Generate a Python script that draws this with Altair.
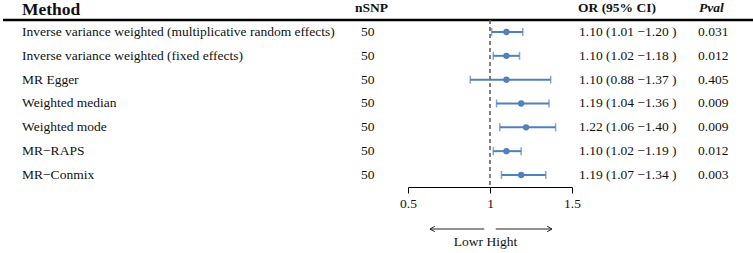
import altair as alt
import pandas as pd

methods = [
    "Inverse variance weighted (multiplicative random effects)",
    "Inverse variance weighted (fixed effects)",
    "MR Egger",
    "Weighted median",
    "Weighted mode",
    "MR\u2212RAPS",
    "MR\u2212Conmix",
]
nsnp = [50, 50, 50, 50, 50, 50, 50]
or_est = [1.10, 1.10, 1.10, 1.19, 1.22, 1.10, 1.19]
ci_lo = [1.01, 1.02, 0.88, 1.04, 1.06, 1.02, 1.07]
ci_hi = [1.20, 1.18, 1.37, 1.36, 1.40, 1.19, 1.34]
pvals = ["0.031", "0.012", "0.405", "0.009", "0.009", "0.012", "0.003"]
axis_ticks = [0.5, 1, 1.5]
headers = ["Method", "nSNP", "OR (95% CI)", "Pval"]

df = pd.DataFrame({
    "row": list(range(len(methods))),
    "method": methods,
    "nsnp": [str(n) for n in nsnp],
    "or": or_est,
    "lo": ci_lo,
    "hi": ci_hi,
    "ortxt": [f"{o:.2f} ({l:.2f} \u2212{h:.2f} )" for o, l, h in zip(or_est, ci_lo, ci_hi)],
    "pval": pvals,
})

FONT = "Liberation Serif"
BLUE = "#4F81BD"
FS = 13.5

xscale = alt.Scale(domain=[0.5, 1.5], range=[408, 572], nice=False, zero=False)
yscale = alt.Scale(domain=[-1.343, 9.274], range=[0, 253], nice=False, zero=False)
Y = alt.Y("row:Q", scale=yscale, axis=None)

base = alt.Chart(df)

def col_text(field, xpix):
    return base.mark_text(align="left", baseline="middle", font=FONT, fontSize=FS,
                          color="#111").encode(x=alt.value(xpix), y=Y, text=f"{field}:N")

t_method = col_text("method", 22)
t_nsnp = col_text("nsnp", 361)
t_or = col_text("ortxt", 579)
t_p = col_text("pval", 698)

hdr = pd.DataFrame({"h": headers})

def head(i, xpix, ypix, size, style="normal"):
    return alt.Chart(hdr).transform_filter(alt.datum.h == headers[i]).mark_text(
        align="left", baseline="middle", font=FONT, fontSize=size, fontWeight="bold",
        fontStyle=style, color="#111"
    ).encode(x=alt.value(xpix), y=alt.value(ypix), text="h:N")

h_method = head(0, 22, 10, 17.5)
h_nsnp = head(1, 355, 8, 13.5)
h_or = head(2, 578, 8, 13.5)
h_p = head(3, 699, 8, 13.5, "italic")

hline = alt.Chart(hdr).transform_filter(alt.datum.h == headers[0]).mark_rule(
    color="black", strokeWidth=2.5
).encode(x=alt.value(3), x2=alt.value(753), y=alt.value(20))

ref = pd.DataFrame({"v": [1.0]})
dash = alt.Chart(ref).mark_rule(color="#555", strokeWidth=1.5, strokeDash=[4, 3]).encode(
    x=alt.X("v:Q", scale=xscale,
            axis=alt.Axis(values=axis_ticks, format=".1~f", grid=False, offset=-66,
                          domainColor="black", domainWidth=1, tickColor="black",
                          tickSize=6, tickWidth=1, labelFont=FONT, labelFontSize=FS,
                          labelColor="#111", labelPadding=3, labelFlush=False,
                          labelOverlap=False,
                          title="Lowr  Hight", titleFont=FONT, titleFontSize=FS,
                          titleFontWeight="normal", titleColor="#111",
                          titleX=485, titleY=54, titleBaseline="middle", titleAlign="center")),
    y=alt.value(20), y2=alt.value(187),
)

ci = base.mark_rule(color=BLUE, strokeWidth=2).encode(
    x=alt.X("lo:Q", scale=xscale), x2="hi:Q", y=Y)
cap_lo = base.mark_tick(color=BLUE, orient="vertical", size=8, thickness=1.5).encode(
    x=alt.X("lo:Q", scale=xscale), y=Y)
cap_hi = base.mark_tick(color=BLUE, orient="vertical", size=8, thickness=1.5).encode(
    x=alt.X("hi:Q", scale=xscale), y=Y)
pts = base.mark_circle(color=BLUE, opacity=1, size=40).encode(
    x=alt.X("or:Q", scale=xscale), y=Y)

arrows = pd.DataFrame({"a": [0.965, 1.035], "b": [0.634, 1.378],
                       "shape": ["M0,0L1.6,-0.9M0,0L1.6,0.9", "M0,0L-1.6,-0.9M0,0L-1.6,0.9"]})
arr_lines = alt.Chart(arrows).mark_rule(color="#222", strokeWidth=1).encode(
    x=alt.X("a:Q", scale=xscale), x2="b:Q", y=alt.value(229))
arr_heads = alt.Chart(arrows).mark_point(filled=False, color="#222", strokeWidth=1,
                                         size=36, opacity=1).encode(
    x=alt.X("b:Q", scale=xscale), y=alt.value(229),
    shape=alt.Shape("shape:N", scale=None, legend=None))

chart = alt.layer(
    hline, dash, h_method, h_nsnp, h_or, h_p,
    t_method, t_nsnp, t_or, t_p,
    ci, cap_lo, cap_hi, pts, arr_lines, arr_heads,
).properties(width=753, height=253, padding=0, autosize="none",
             background="white").configure(font=FONT).configure_view(stroke=None)

chart.save("out.html", embed_options={"renderer": "svg", "actions": False})
